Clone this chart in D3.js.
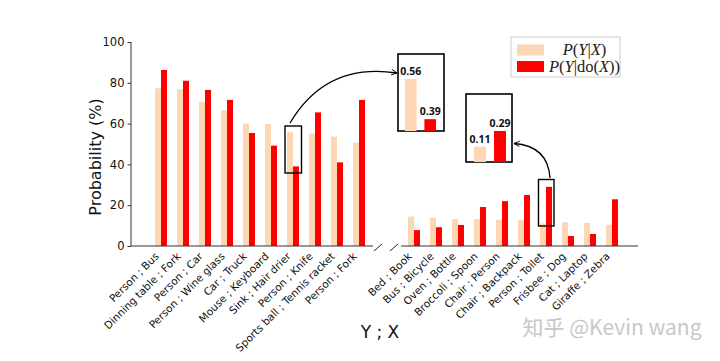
<!DOCTYPE html>
<html>
<head>
<meta charset="utf-8">
<script src="https://cdn.jsdelivr.net/npm/d3@7"></script>
<style>
  html, body { margin: 0; padding: 0; background: #fff; }
  svg { display: block; }
</style>
</head>
<body>
<svg id="chart" width="720" height="361"></svg>
<script>
// ---------- data ----------
const leftCats = ["Person ; Bus", "Dinning table ; Fork", "Person ; Car", "Person ; Wine glass",
  "Car ; Truck", "Mouse ; Keyboard", "Sink ; Hair drier", "Person ; Knife",
  "Sports ball ; Tennis racket", "Person ; Fork"];
const leftPYX   = [77.3, 76.8, 70.7, 66.5, 60.0, 59.8, 56.0, 55.2, 53.6, 50.7];
const leftPYdoX = [86.3, 81.0, 76.5, 71.6, 55.4, 49.2, 39.0, 65.5, 41.0, 71.6];

const rightCats = ["Bed ; Book", "Bus ; Bicycle", "Oven ; Bottle", "Broccoli ; Spoon",
  "Chair ; Person", "Chair ; Backpack", "Person ; Toilet", "Frisbee ; Dog",
  "Cat ; Laptop", "Giraffe ; Zebra"];
const rightPYX   = [14.4, 13.9, 13.2, 13.2, 12.9, 12.7, 11.0, 11.6, 11.3, 10.4];
const rightPYdoX = [7.8, 9.2, 10.3, 19.1, 22.0, 25.0, 29.0, 4.9, 5.9, 22.9];

const yTicks = [0, 20, 40, 60, 80, 100];
const inset1Vals = [0.56, 0.39];
const inset2Vals = [0.11, 0.29];
const seriesNames = ["P(Y|X)", "P(Y|do(X))"];

// ---------- styles ----------
const cLight = "#fdd6b4";
const cRed = "#ff0000";
const sans = "'DejaVu Sans', sans-serif";
const svg = d3.select("#chart");

const y = d3.scaleLinear().domain([0, 100]).range([246, 42]);
const xL = d3.scalePoint().domain(leftCats).range([161, 359]);
const xR = d3.scalePoint().domain(rightCats).range([414, 612]);
const bw = 6;

function drawGroup(cats, x, a, b) {
  const g = svg.append("g");
  g.selectAll("rect.l").data(cats).join("rect")
    .attr("x", d => x(d) - bw).attr("width", bw)
    .attr("y", (d, i) => y(a[i])).attr("height", (d, i) => y(0) - y(a[i]))
    .attr("fill", cLight);
  g.selectAll("rect.r").data(cats).join("rect")
    .attr("x", d => x(d)).attr("width", bw)
    .attr("y", (d, i) => y(b[i])).attr("height", (d, i) => y(0) - y(b[i]))
    .attr("fill", cRed);
  g.selectAll("text.t").data(cats).join("text")
    .attr("transform", d => `translate(${x(d) - 1.5},257) rotate(-45)`)
    .attr("text-anchor", "end")
    .style("font-family", sans)
    .style("font-size", "10.5px")
    .attr("fill", "#111")
    .text(d => d);
}
drawGroup(leftCats, xL, leftPYX, leftPYdoX);
drawGroup(rightCats, xR, rightPYX, rightPYdoX);

// y axis
const yAxis = d3.axisLeft(y).tickValues(yTicks).tickSize(3.5).tickPadding(3);
const ga = svg.append("g").attr("transform", "translate(131,0)").call(yAxis);
ga.select(".domain").attr("stroke", "#333").attr("d", "M0,246V42");
ga.selectAll(".tick line").attr("stroke", "#333");
ga.selectAll(".tick text").style("font-size", "11.5px").attr("fill", "#111")
  .style("font-family", sans);

// x axis lines with break
svg.append("line").attr("x1", 131).attr("x2", 373).attr("y1", 246).attr("y2", 246)
  .attr("stroke", "#333").attr("stroke-width", 1);
svg.append("line").attr("x1", 401).attr("x2", 638).attr("y1", 246).attr("y2", 246)
  .attr("stroke", "#333").attr("stroke-width", 1);
[[374, 251, 382, 244], [390, 251, 398, 244]].forEach(s => {
  svg.append("line").attr("x1", s[0]).attr("y1", s[1]).attr("x2", s[2]).attr("y2", s[3])
    .attr("stroke", "#222").attr("stroke-width", 1);
});

// axis titles
svg.append("text").attr("transform", "translate(101,157) rotate(-90)")
  .attr("text-anchor", "middle").style("font-family", sans).style("font-size", "16px").attr("fill", "#111")
  .text("Probability (%)");
svg.append("text").attr("x", 380).attr("y", 338)
  .attr("text-anchor", "middle").style("font-family", sans).style("font-size", "17px").attr("fill", "#111")
  .text("Y ; X");

// highlight rects
const hiIdxL = leftCats.indexOf("Sink ; Hair drier");
const hiIdxR = rightCats.indexOf("Person ; Toilet");
svg.append("rect").attr("x", xL(leftCats[hiIdxL]) - 8).attr("y", 126).attr("width", 16.5).attr("height", 47)
  .attr("fill", "none").attr("stroke", "#000").attr("stroke-width", 1.4);
svg.append("rect").attr("x", xR(rightCats[hiIdxR]) - 7.5).attr("y", 179.5).attr("width", 15.5).attr("height", 46.5)
  .attr("fill", "none").attr("stroke", "#000").attr("stroke-width", 1.4);

// insets
function drawInset(box, vals, domain, topY, bandRange) {
  svg.append("rect").attr("x", box[0]).attr("y", box[1]).attr("width", box[2]).attr("height", box[3])
    .attr("fill", "#fff").attr("stroke", "#000").attr("stroke-width", 1.6);
  const base = box[1] + box[3];
  const yi = d3.scaleLinear().domain(domain).range([base, topY]);
  const xb = d3.scaleBand().domain([0, 1]).range(bandRange).paddingInner(0.4).paddingOuter(0.1);
  svg.selectAll(null).data(vals).join("rect")
    .attr("x", (d, i) => xb(i)).attr("width", xb.bandwidth())
    .attr("y", d => yi(d)).attr("height", d => base - yi(d))
    .attr("fill", (d, i) => i === 0 ? cLight : cRed);
  svg.selectAll(null).data(vals).join("text")
    .attr("x", (d, i) => xb(i) + xb.bandwidth() / 2)
    .attr("y", d => yi(d) - 4)
    .attr("text-anchor", "middle")
    .style("font-family", "'Open Sans', sans-serif")
    .style("font-weight", "bold").style("font-size", "10.5px").attr("fill", "#111")
    .text(d => d3.format(".2f")(d));
}
drawInset([398, 54, 46, 77], inset1Vals, [0.34, 0.56], 79, [403, 438]);
drawInset([466, 94, 46, 68], inset2Vals, [-0.07, 0.29], 131, [472, 508]);

// arrows
const defs = svg.append("defs");
defs.append("marker").attr("id", "ah").attr("viewBox", "0 0 10 10")
  .attr("refX", 9).attr("refY", 5).attr("markerWidth", 7).attr("markerHeight", 7)
  .attr("markerUnits", "userSpaceOnUse").attr("orient", "auto")
  .append("path").attr("d", "M1,1 L9,5 L1,9").attr("fill", "none").attr("stroke", "#000").attr("stroke-width", 1.3);
svg.append("path").attr("d", "M290,123 Q326,62 397,73")
  .attr("fill", "none").attr("stroke", "#000").attr("stroke-width", 1.3).attr("marker-end", "url(#ah)");
svg.append("path").attr("d", "M550,178 Q548,146 514,143.5")
  .attr("fill", "none").attr("stroke", "#000").attr("stroke-width", 1.3).attr("marker-end", "url(#ah)");

// legend
const lg = svg.append("g");
lg.append("rect").attr("x", 511).attr("y", 37).attr("width", 109).attr("height", 40)
  .attr("fill", "#fff").attr("stroke", "#ccc").attr("stroke-width", 1);
const legendRows = [
  { color: cLight, y: 44.5, parts: [["P", 1], ["(", 0], ["Y", 1], ["|", 0], ["X", 1], [")", 0]] },
  { color: cRed, y: 61, parts: [["P", 1], ["(", 0], ["Y", 1], ["|", 0], ["do", 0], ["(", 0], ["X", 1], ["))", 0]] }
];
legendRows.forEach((r, i) => {
  lg.append("rect").attr("x", 517).attr("y", r.y).attr("width", 27).attr("height", 11).attr("fill", r.color);
  const t = lg.append("text").attr("x", 584.5).attr("y", r.y + 10.5).attr("text-anchor", "middle")
    .style("font-family", "'Liberation Serif', serif").style("font-size", "16.5px").attr("fill", "#222");
  t.attr("aria-label", seriesNames[i]);
  r.parts.forEach(p => t.append("tspan").style("font-style", p[1] ? "italic" : "normal").text(p[0]));
});

// watermark
svg.append("text").attr("x", 612).attr("y", 335).attr("text-anchor", "middle")
  .style("font-family", "'Noto Sans CJK SC', sans-serif").style("font-size", "21px")
  .attr("fill", "#c8c8c8").text("知乎 @Kevin wang");
</script>
</body>
</html>
